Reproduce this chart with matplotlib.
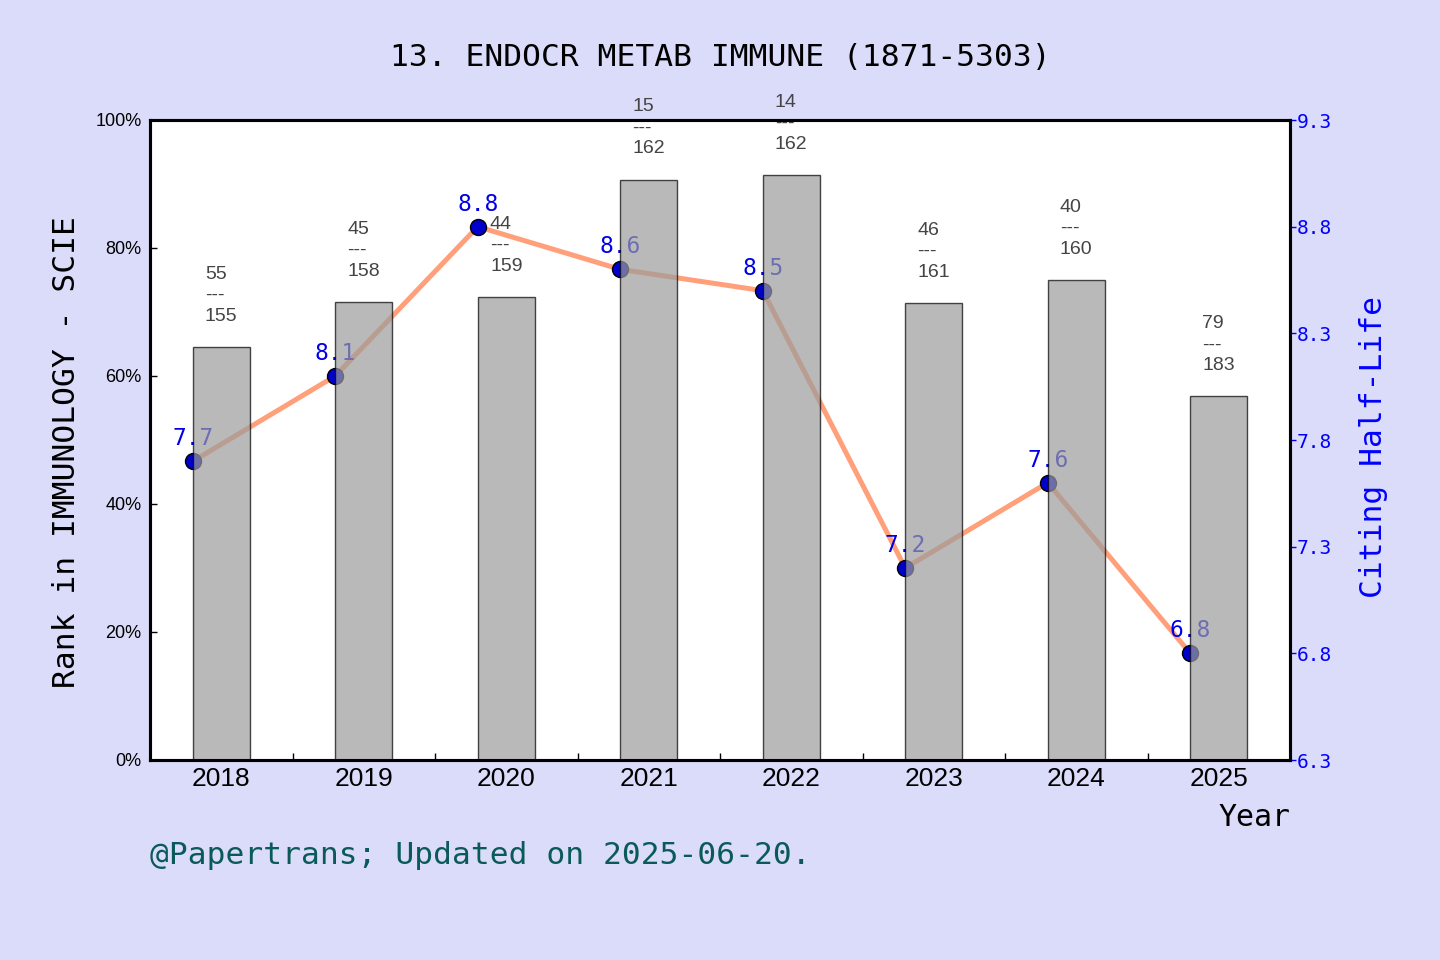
import matplotlib
matplotlib.use("Agg")
import matplotlib.pyplot as plt
from matplotlib.ticker import FixedLocator, PercentFormatter

# данные с картинки
years = ["2018", "2019", "2020", "2021", "2022", "2023", "2024", "2025"]
rank = [55, 45, 44, 15, 14, 46, 40, 79]
total = [155, 158, 159, 162, 162, 161, 160, 183]
bar_pct = [64.5, 71.5, 72.3, 90.7, 91.4, 71.4, 75.0, 56.8]
half_life = [7.7, 8.1, 8.8, 8.6, 8.5, 7.2, 7.6, 6.8]
hl_ticks = [6.3, 6.8, 7.3, 7.8, 8.3, 8.8, 9.3]

MONO = "DejaVu Sans Mono"
SANS = "Liberation Sans"
BG = "#DBDBFA"

fig = plt.figure(figsize=(14.4, 9.6), dpi=100, facecolor=BG)
ax1 = fig.add_axes([150 / 1440, 1 - 760 / 960, 1140 / 1440, 640 / 960])
ax2 = ax1.twinx()

# бары поверх линии: ax1 выше ax2, белый фон у нижней оси
ax1.set_zorder(ax2.get_zorder() + 1)
ax1.patch.set_visible(False)
ax2.patch.set_visible(True)
ax2.patch.set_facecolor("white")

x = list(range(len(years)))
ax1.bar(x, bar_pct, width=0.4, color="#9C9C9C", alpha=0.7,
        edgecolor="black", linewidth=1)
for i, (r, t, h) in enumerate(zip(rank, total, bar_pct)):
    ax1.annotate(f"{r}\n---\n{t}", (i, h), xytext=(0, 16), textcoords="offset points",
                 ha="center", va="bottom", multialignment="left",
                 fontsize=14, family=SANS, color="#444444", linespacing=1.3,
                 annotation_clip=False)

ax1.set_xlim(-0.5, len(years) - 0.5)
ax1.set_ylim(0, 100)
ax1.yaxis.set_major_locator(FixedLocator([0, 20, 40, 60, 80, 100]))
ax1.yaxis.set_major_formatter(PercentFormatter(decimals=0))
ax1.set_xticks(x)
ax1.set_xticklabels(years, fontsize=19, family=SANS)
ax1.xaxis.set_minor_locator(FixedLocator([i + 0.5 for i in x[:-1]]))
ax1.tick_params(axis="x", which="major", length=0, pad=5)
ax1.tick_params(axis="x", which="minor", direction="in", length=5, width=1)
ax1.tick_params(axis="y", direction="in", length=5, width=1, pad=6, labelsize=13)
for lbl in ax1.get_yticklabels():
    lbl.set_family(SANS)

xl = [i - 0.2 for i in x]
ax2.plot(xl, half_life, color="#FFA07A", linewidth=3.6, marker="o",
         markersize=11.5, markerfacecolor="#0000CD", markeredgecolor="black",
         markeredgewidth=1)
for xi, v in zip(xl, half_life):
    ax2.annotate(f"{v:.1f}", (xi, v), xytext=(0, 8), textcoords="offset points",
                 ha="center", va="bottom", fontsize=16.5, family=MONO, color="#0000E6")
ax2.set_ylim(6.3, 9.3)
ax2.set_yticks(hl_ticks)
ax2.set_yticklabels([f"{t:.1f}" for t in hl_ticks], family=MONO)
ax2.tick_params(axis="y", colors="#0000FF", length=4, width=1, pad=1, labelsize=14)

for ax in (ax1, ax2):
    for s in ax.spines.values():
        s.set_linewidth(2.2)
        s.set_color("black")

fig.text(720 / 1440, 1 - 57 / 960, "13. ENDOCR METAB IMMUNE (1871-5303)",
         ha="center", va="center", fontsize=22.5, family=MONO)
fig.text(67 / 1440, 1 - 452 / 960, "Rank in IMMUNOLOGY - SCIE", rotation=90,
         ha="center", va="center", fontsize=22.5, family=MONO)
fig.text(1373 / 1440, 1 - 447 / 960, "Citing Half-Life", rotation=90,
         ha="center", va="center", fontsize=22.5, family=MONO, color="#0000FF")
fig.text(1290 / 1440, 1 - 817 / 960, "Year", ha="right", va="center",
         fontsize=21.5, family=MONO)
fig.text(150 / 1440, 1 - 855 / 960, "@Papertrans; Updated on 2025-06-20.",
         ha="left", va="center", fontsize=22.5, family=MONO, color="#0B5A5A")

fig.savefig("out.png", dpi=100, facecolor=BG)
